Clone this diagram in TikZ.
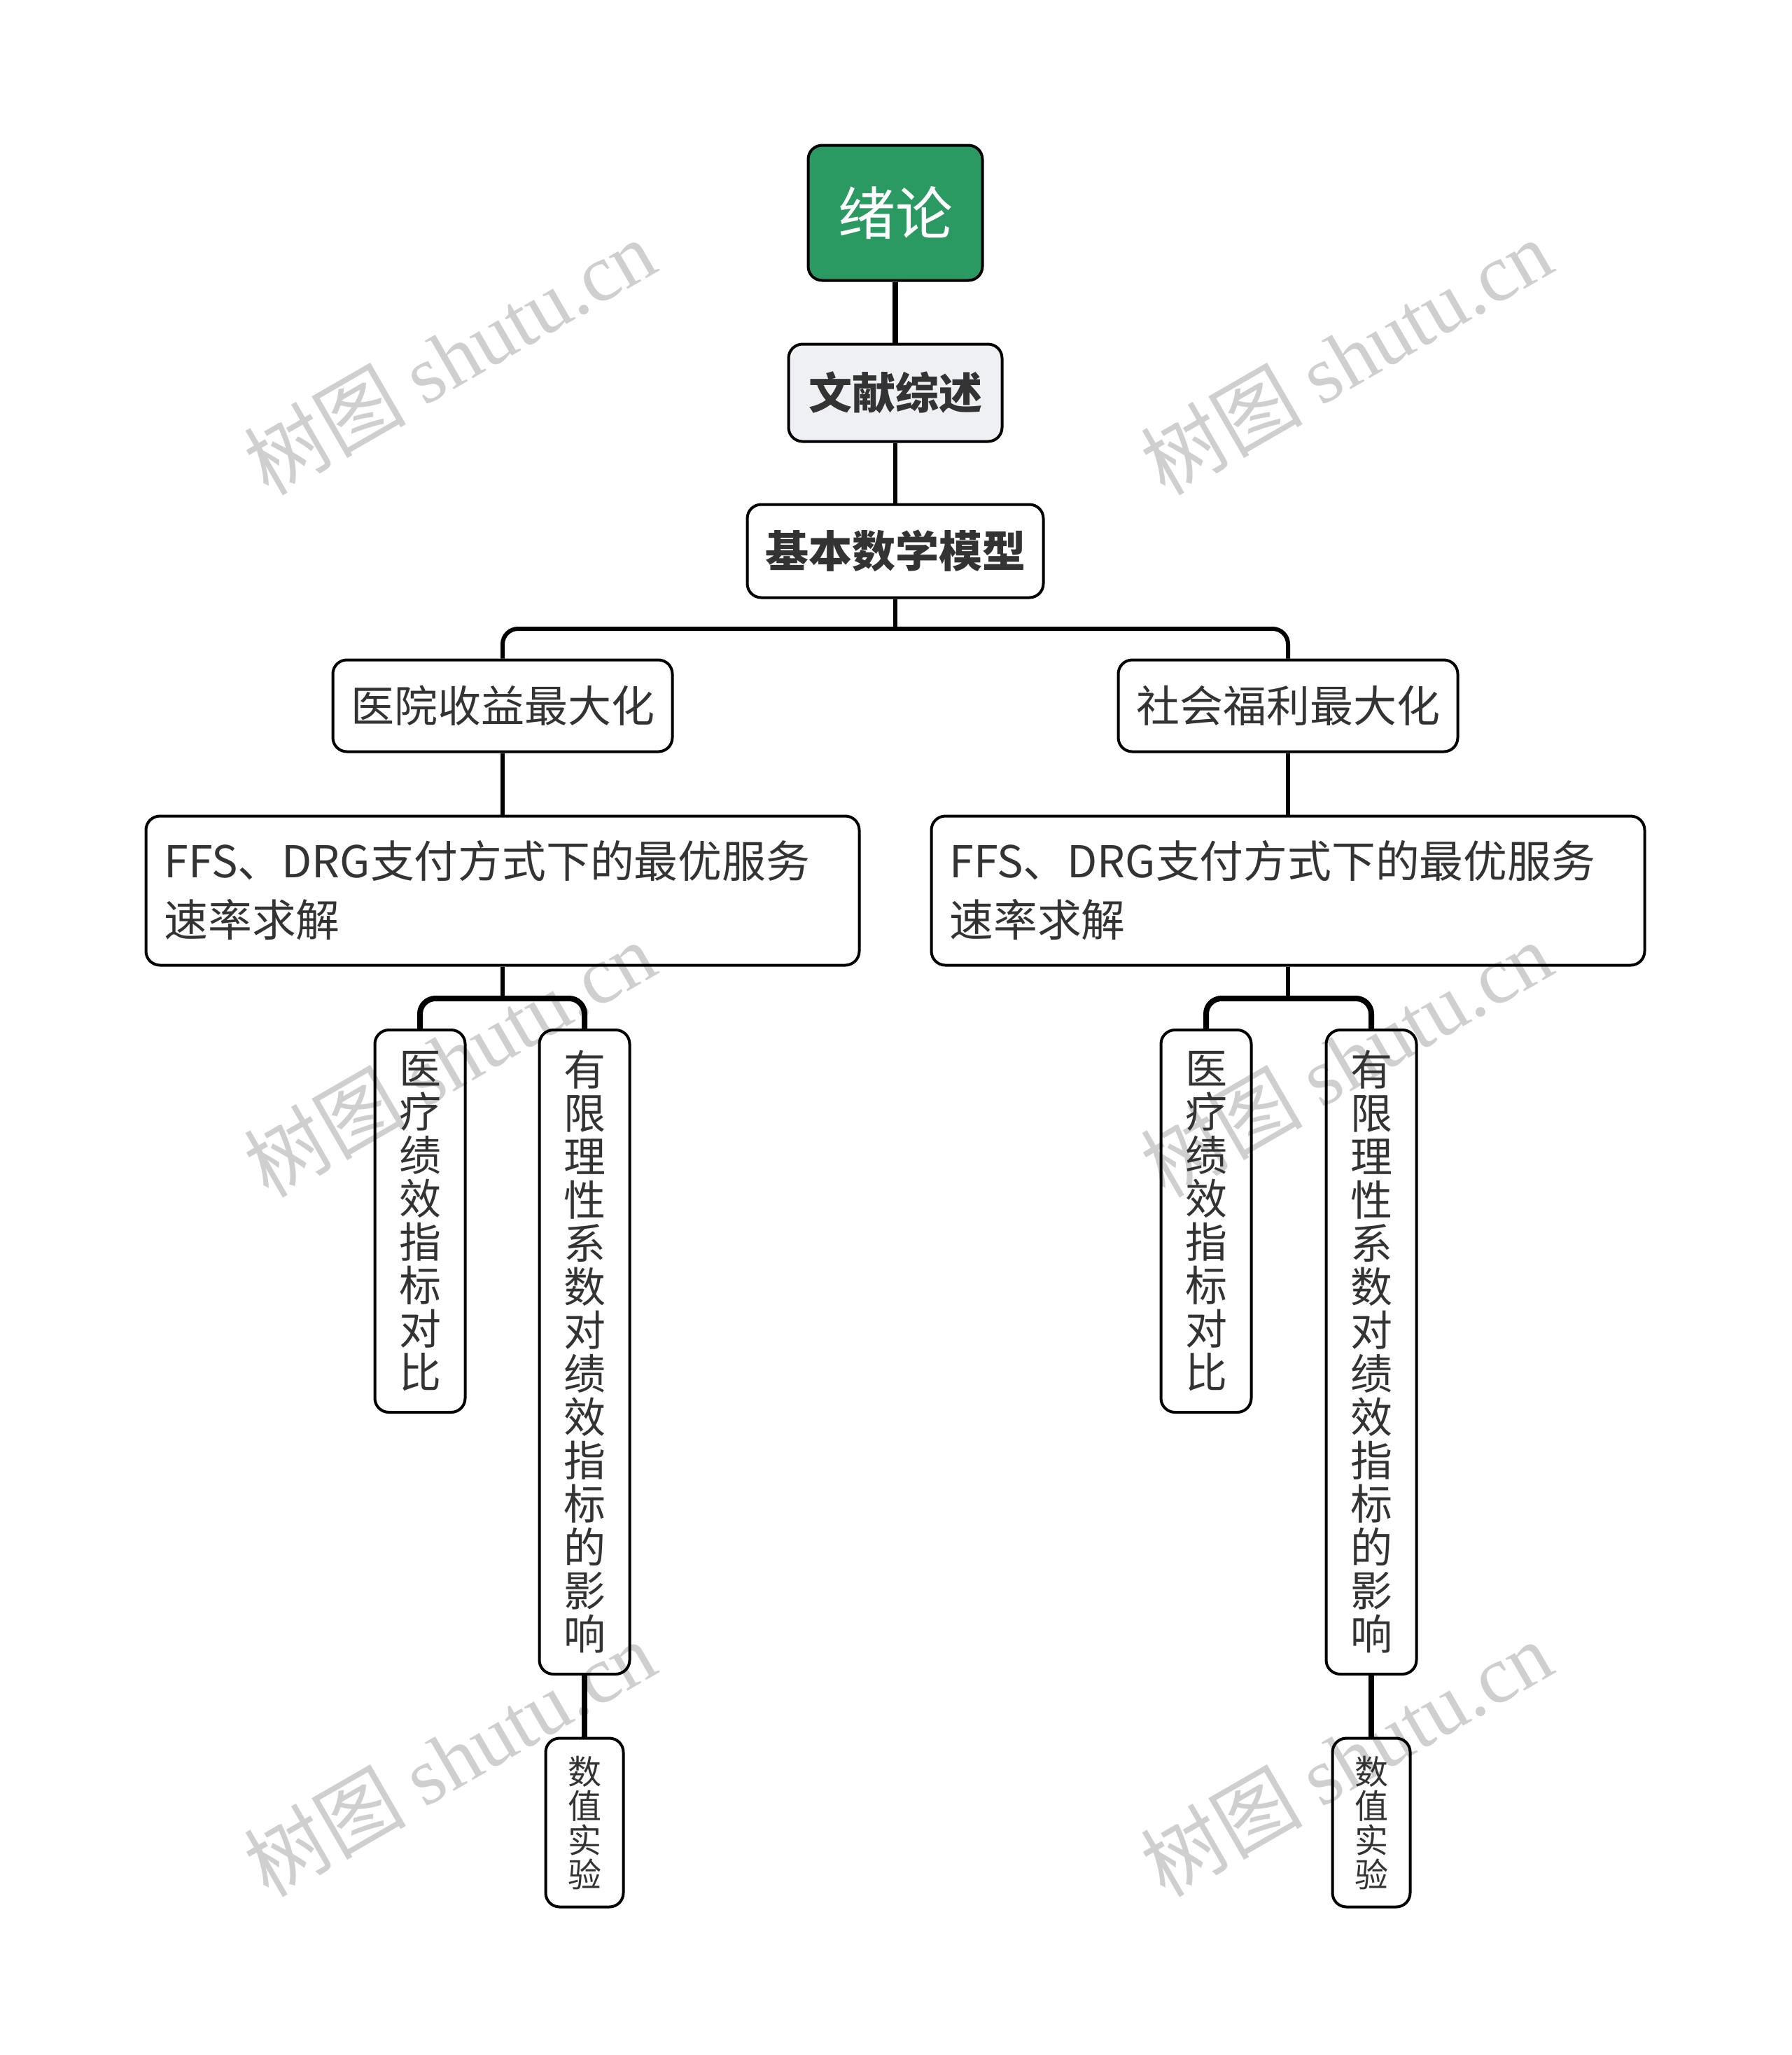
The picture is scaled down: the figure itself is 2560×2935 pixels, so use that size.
\documentclass[tikz,border=0pt]{standalone}
\usepackage{fontspec}
\setmainfont{Noto Sans CJK SC}
\newfontfamily\wmserif{Liberation Serif}
\definecolor{txt}{HTML}{333333}
\definecolor{rootgreen}{HTML}{2A9A62}
\definecolor{lightfill}{HTML}{EEF0F3}
\definecolor{wm}{HTML}{CFCFCF}
\begin{document}
\begin{tikzpicture}[x=0.5pt,y=-0.5pt,
  box/.style={draw=black, line width=2pt, rounded corners=10pt, text=txt, inner sep=0pt, align=center},
  conn/.style={draw=black, line width=3pt, rounded corners=11pt},
  thick conn/.style={conn, line width=4pt},
  vbox/.style={box, minimum width=64.5pt, font=\fontsize{30}{31}\selectfont},
  wmark/.style={text=wm, rotate=30, font=\fontsize{58}{60}\selectfont, inner sep=0pt}
]
\useasboundingbox[fill=white] (0,0) rectangle (2560,2935);

% watermarks (behind the unfilled boxes)
\foreach \wx/\wy [count=\i] in {642/509, 1923/509, 642/1512, 1923/1512, 642/2511, 1923/2511}
  \node[wmark] (wm\i) at (\wx,\wy) {树图 {\wmserif shutu.cn}};

% nodes
\node[box, fill=rootgreen, text=white, minimum width=124.5pt, minimum height=96.5pt,
      font=\fontsize{41}{45}\selectfont] (root) at (1279,304) {绪论};
\node[box, fill=lightfill, minimum width=152.5pt, minimum height=69.5pt,
      font=\fontsize{31}{34}\selectfont\bfseries] (wx) at (1279,561) {文献综述};
\node[box, minimum width=211.5pt, minimum height=66.5pt,
      font=\fontsize{31}{34}\selectfont\bfseries] (jb) at (1279,787) {基本数学模型};
\node[box, minimum width=242.5pt, minimum height=65.5pt,
      font=\fontsize{31}{34}\selectfont] (yy) at (718,1008) {医院收益最大化};
\node[box, minimum width=242.5pt, minimum height=65.5pt,
      font=\fontsize{31}{34}\selectfont] (sh) at (1840,1008) {社会福利最大化};
\node[box, align=left, text width=483.5pt, inner xsep=13pt, minimum height=106.5pt,
      font=\fontsize{31.4}{42}\selectfont] (ffsL) at (718,1272) {FFS、DRG支付方式下的最优服务\\速率求解};
\node[box, align=left, text width=483.5pt, inner xsep=13pt, minimum height=106.5pt,
      font=\fontsize{31.4}{42}\selectfont] (ffsR) at (1840,1272) {FFS、DRG支付方式下的最优服务\\速率求解};

\node[vbox, minimum height=273pt] (ylL) at (600,1744) {医\\疗\\绩\\效\\指\\标\\对\\比};
\node[vbox, minimum height=460pt] (yxL) at (835,1931) {有\\限\\理\\性\\系\\数\\对\\绩\\效\\指\\标\\的\\影\\响};
\node[box, minimum width=55.5pt, minimum height=120.5pt, font=\fontsize{24}{24.5}\selectfont] (szL) at (835,2603) {数\\值\\实\\验};

\node[vbox, minimum height=273pt] (ylR) at (1723,1744) {医\\疗\\绩\\效\\指\\标\\对\\比};
\node[vbox, minimum height=460pt] (yxR) at (1959,1931) {有\\限\\理\\性\\系\\数\\对\\绩\\效\\指\\标\\的\\影\\响};
\node[box, minimum width=55.5pt, minimum height=120.5pt, font=\fontsize{24}{24.5}\selectfont] (szR) at (1959,2603) {数\\值\\实\\验};

% junction coordinates
\coordinate (b0) at (1279,898);
\coordinate (bL) at (718,1426);
\coordinate (bR) at (1840,1426);

% connectors
\draw[thick conn] (root.south) -- (wx.north);
\draw[conn] (wx.south) -- (jb.north);
\draw[conn] (jb.south) -- (b0);
\draw[conn] (b0) -| (yy.north);
\draw[conn] (b0) -| (sh.north);
\draw[conn] (yy.south) -- (ffsL.north);
\draw[conn] (sh.south) -- (ffsR.north);
\draw[conn] (ffsL.south) -- (bL);
\draw[thick conn] (bL) -| (ylL.north);
\draw[thick conn] (bL) -| (yxL.north);
\draw[conn] (ffsR.south) -- (bR);
\draw[thick conn] (bR) -| (ylR.north);
\draw[thick conn] (bR) -| (yxR.north);
\draw[thick conn] (yxL.south) -- (szL.north);
\draw[thick conn] (yxR.south) -- (szR.north);
\end{tikzpicture}
\end{document}
